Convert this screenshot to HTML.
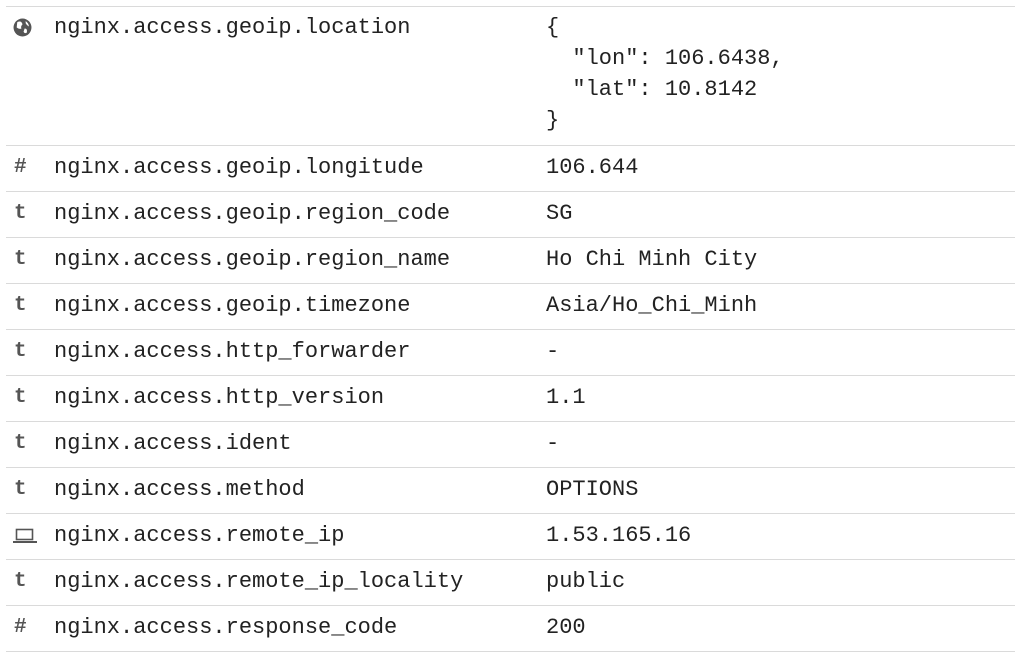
<!DOCTYPE html>
<html><head><style>
body{margin:0;width:1015px;height:656px;background:#fff;overflow:hidden;font-family:"Liberation Mono",monospace;font-size:22px;color:#222;}
.r{position:absolute;left:6px;right:0;border-top:1px solid #dadada;}
.t{position:absolute;white-space:pre;line-height:31px;}
.ic{position:absolute;left:14px;color:#555;font-weight:bold;font-family:"Liberation Mono",monospace;font-size:21px;line-height:31px;}
</style></head><body>
<div class="r" style="top:6px"></div>
<svg style="position:absolute;left:13px;top:18px" width="19" height="19" viewBox="0 0 18 18"><circle cx="9" cy="9" r="8.5" fill="#555"/><path d="M4 4 Q8 2 9 6 Q7 8 8 10 Q6 11 3.5 9 Z M11 10 Q14 10 13 14 Q11 15 10 13 Z M12 3 Q15 5 15 8 Q13 7 12 5Z" fill="#fff"/></svg>
<div class="t" style="left:54px;top:12px">nginx.access.geoip.location</div>
<div class="t" style="left:546px;top:12px">{
  "lon": 106.6438,
  "lat": 10.8142
}</div>
<div class="r" style="top:145px"></div><div class="ic" style="top:152px">#</div><div class="t" style="left:54px;top:152px">nginx.access.geoip.longitude</div><div class="t" style="left:546px;top:152px">106.644</div>
<div class="r" style="top:191px"></div><div class="ic" style="top:198px">t</div><div class="t" style="left:54px;top:198px">nginx.access.geoip.region_code</div><div class="t" style="left:546px;top:198px">SG</div>
<div class="r" style="top:237px"></div><div class="ic" style="top:244px">t</div><div class="t" style="left:54px;top:244px">nginx.access.geoip.region_name</div><div class="t" style="left:546px;top:244px">Ho Chi Minh City</div>
<div class="r" style="top:283px"></div><div class="ic" style="top:290px">t</div><div class="t" style="left:54px;top:290px">nginx.access.geoip.timezone</div><div class="t" style="left:546px;top:290px">Asia/Ho_Chi_Minh</div>
<div class="r" style="top:329px"></div><div class="ic" style="top:336px">t</div><div class="t" style="left:54px;top:336px">nginx.access.http_forwarder</div><div class="t" style="left:546px;top:336px">-</div>
<div class="r" style="top:375px"></div><div class="ic" style="top:382px">t</div><div class="t" style="left:54px;top:382px">nginx.access.http_version</div><div class="t" style="left:546px;top:382px">1.1</div>
<div class="r" style="top:421px"></div><div class="ic" style="top:428px">t</div><div class="t" style="left:54px;top:428px">nginx.access.ident</div><div class="t" style="left:546px;top:428px">-</div>
<div class="r" style="top:467px"></div><div class="ic" style="top:474px">t</div><div class="t" style="left:54px;top:474px">nginx.access.method</div><div class="t" style="left:546px;top:474px">OPTIONS</div>
<div class="r" style="top:513px"></div>
<svg style="position:absolute;left:13px;top:527px" width="24" height="18" viewBox="0 0 24 18"><rect x="3.5" y="2.5" width="16" height="10" fill="none" stroke="#555" stroke-width="1.6"/><rect x="0" y="14" width="24" height="2" fill="#555"/></svg>
<div class="t" style="left:54px;top:520px">nginx.access.remote_ip</div><div class="t" style="left:546px;top:520px">1.53.165.16</div>
<div class="r" style="top:559px"></div><div class="ic" style="top:566px">t</div><div class="t" style="left:54px;top:566px">nginx.access.remote_ip_locality</div><div class="t" style="left:546px;top:566px">public</div>
<div class="r" style="top:605px"></div><div class="ic" style="top:612px">#</div><div class="t" style="left:54px;top:612px">nginx.access.response_code</div><div class="t" style="left:546px;top:612px">200</div>
<div class="r" style="top:651px"></div>
</body></html>
